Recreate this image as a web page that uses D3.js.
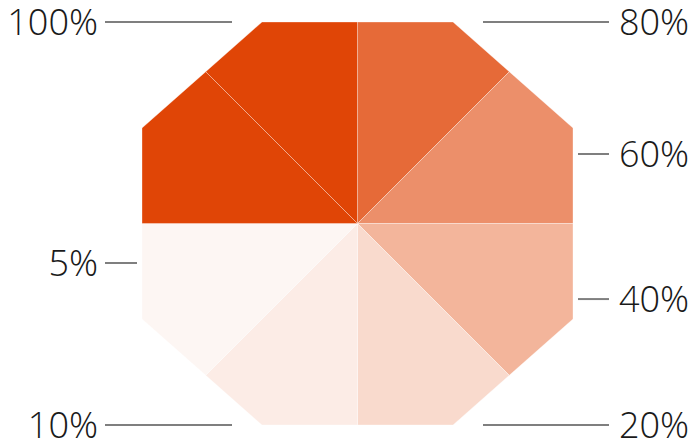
<!DOCTYPE html>
<html>
<head>
<meta charset="utf-8">
<script src="https://cdn.jsdelivr.net/npm/d3@7"></script>
<style>
  html, body { margin: 0; padding: 0; background: #fff; }
  svg { display: block; }
  text { font-family: "Open Sans Light", "Open Sans", "Segoe UI", sans-serif; font-weight: 300; }
</style>
</head>
<body>
<div id="chart"></div>
<script>
// slices clockwise starting at 12 o'clock
var values = [80, 60, 40, 20, 10, 5, 100, 100];
var labels = ["80%", "60%", "40%", "20%", "10%", "5%", "", "100%"];
// where each label sits, as a fraction of the half height (null = no label)
var labelPos = [-1, -0.345, 0.375, 1, 1, 0.196, null, -1];

var width = 691, height = 446;
var cx = 357.5, cy = 223.5;
var halfW = 215.5, halfH = 201.5, edge = 95.5;

var svg = d3.select("#chart").append("svg")
  .attr("width", width)
  .attr("height", height);

var color = d3.scaleLinear()
  .domain([0, 100])
  .range(["#ffffff", "#e04506"]);

var yScale = d3.scaleLinear().domain([-1, 1]).range([cy - halfH, cy + halfH]);

// octagon outline, clockwise from the top edge
var octagon = [
  [edge, -halfH], [halfW, -edge], [halfW, edge], [edge, halfH],
  [-edge, halfH], [-halfW, edge], [-halfW, -edge], [-edge, -halfH]
];

function angleOf(p) {
  var a = Math.atan2(p[0], -p[1]);
  return a < 0 ? a + 2 * Math.PI : a;
}

// where a ray from the centre at angle a meets the octagon
function hit(a) {
  var dx = Math.sin(a), dy = -Math.cos(a);
  var best = null;
  for (var i = 0; i < octagon.length; i++) {
    var p = octagon[i], q = octagon[(i + 1) % octagon.length];
    var ex = q[0] - p[0], ey = q[1] - p[1];
    var den = dx * ey - dy * ex;
    if (Math.abs(den) < 1e-9) continue;
    var t = (p[0] * ey - p[1] * ex) / den;
    var s = (p[0] * dy - p[1] * dx) / den;
    if (t > 0 && s >= -1e-9 && s <= 1 + 1e-9) {
      if (best === null || t < best) best = t;
    }
  }
  return [dx * best, dy * best];
}

var pie = d3.pie().sort(null).value(function() { return 1; });
var arcs = pie(values);

function slicePoints(d) {
  var pts = [[0, 0], hit(d.startAngle)];
  octagon.forEach(function(v) {
    var a = angleOf(v);
    if (a > d.startAngle + 1e-6 && a < d.endAngle - 1e-6) pts.push(v);
  });
  pts.sort(function(p, q) {
    if (p[0] === 0 && p[1] === 0) return -1;
    if (q[0] === 0 && q[1] === 0) return 1;
    var ap = angleOf(p), aq = angleOf(q);
    if (ap < d.startAngle - 1e-6) ap += 2 * Math.PI;
    if (aq < d.startAngle - 1e-6) aq += 2 * Math.PI;
    return ap - aq;
  });
  pts.push(hit(d.endAngle));
  return pts;
}

var line = d3.line();

svg.append("g")
  .attr("transform", "translate(" + cx + "," + cy + ")")
  .selectAll("path")
  .data(arcs)
  .enter()
  .append("path")
    .attr("d", function(d) { return line(slicePoints(d)) + "Z"; })
    .style("fill", function(d) { return color(d.data); })
    .style("stroke", "#ffffff")
    .style("stroke-width", 0.6)
    .style("stroke-opacity", 0.55);

// labels with leader lines
var lab = svg.append("g");
arcs.forEach(function(d, i) {
  if (labelPos[i] === null) return;
  var mid = (d.startAngle + d.endAngle) / 2;
  var right = mid < Math.PI;
  var y = yScale(labelPos[i]);
  var onEdge = Math.abs(labelPos[i]) === 1;
  var inner = onEdge ? edge + 30 : halfW + 5;
  var x1 = right ? cx + inner : cx - inner;
  var x2 = right ? 609 : 105;

  lab.append("line")
    .attr("x1", x1).attr("x2", x2)
    .attr("y1", y).attr("y2", y)
    .style("stroke", "#7f7f7f")
    .style("stroke-width", 2);

  lab.append("text")
    .attr("x", right ? 619 : 98)
    .attr("y", y + 13)
    .attr("text-anchor", right ? "start" : "end")
    .style("font-size", "36px")
    .style("fill", "#1a1a1a")
    .text(labels[i]);
});
</script>
</body>
</html>
